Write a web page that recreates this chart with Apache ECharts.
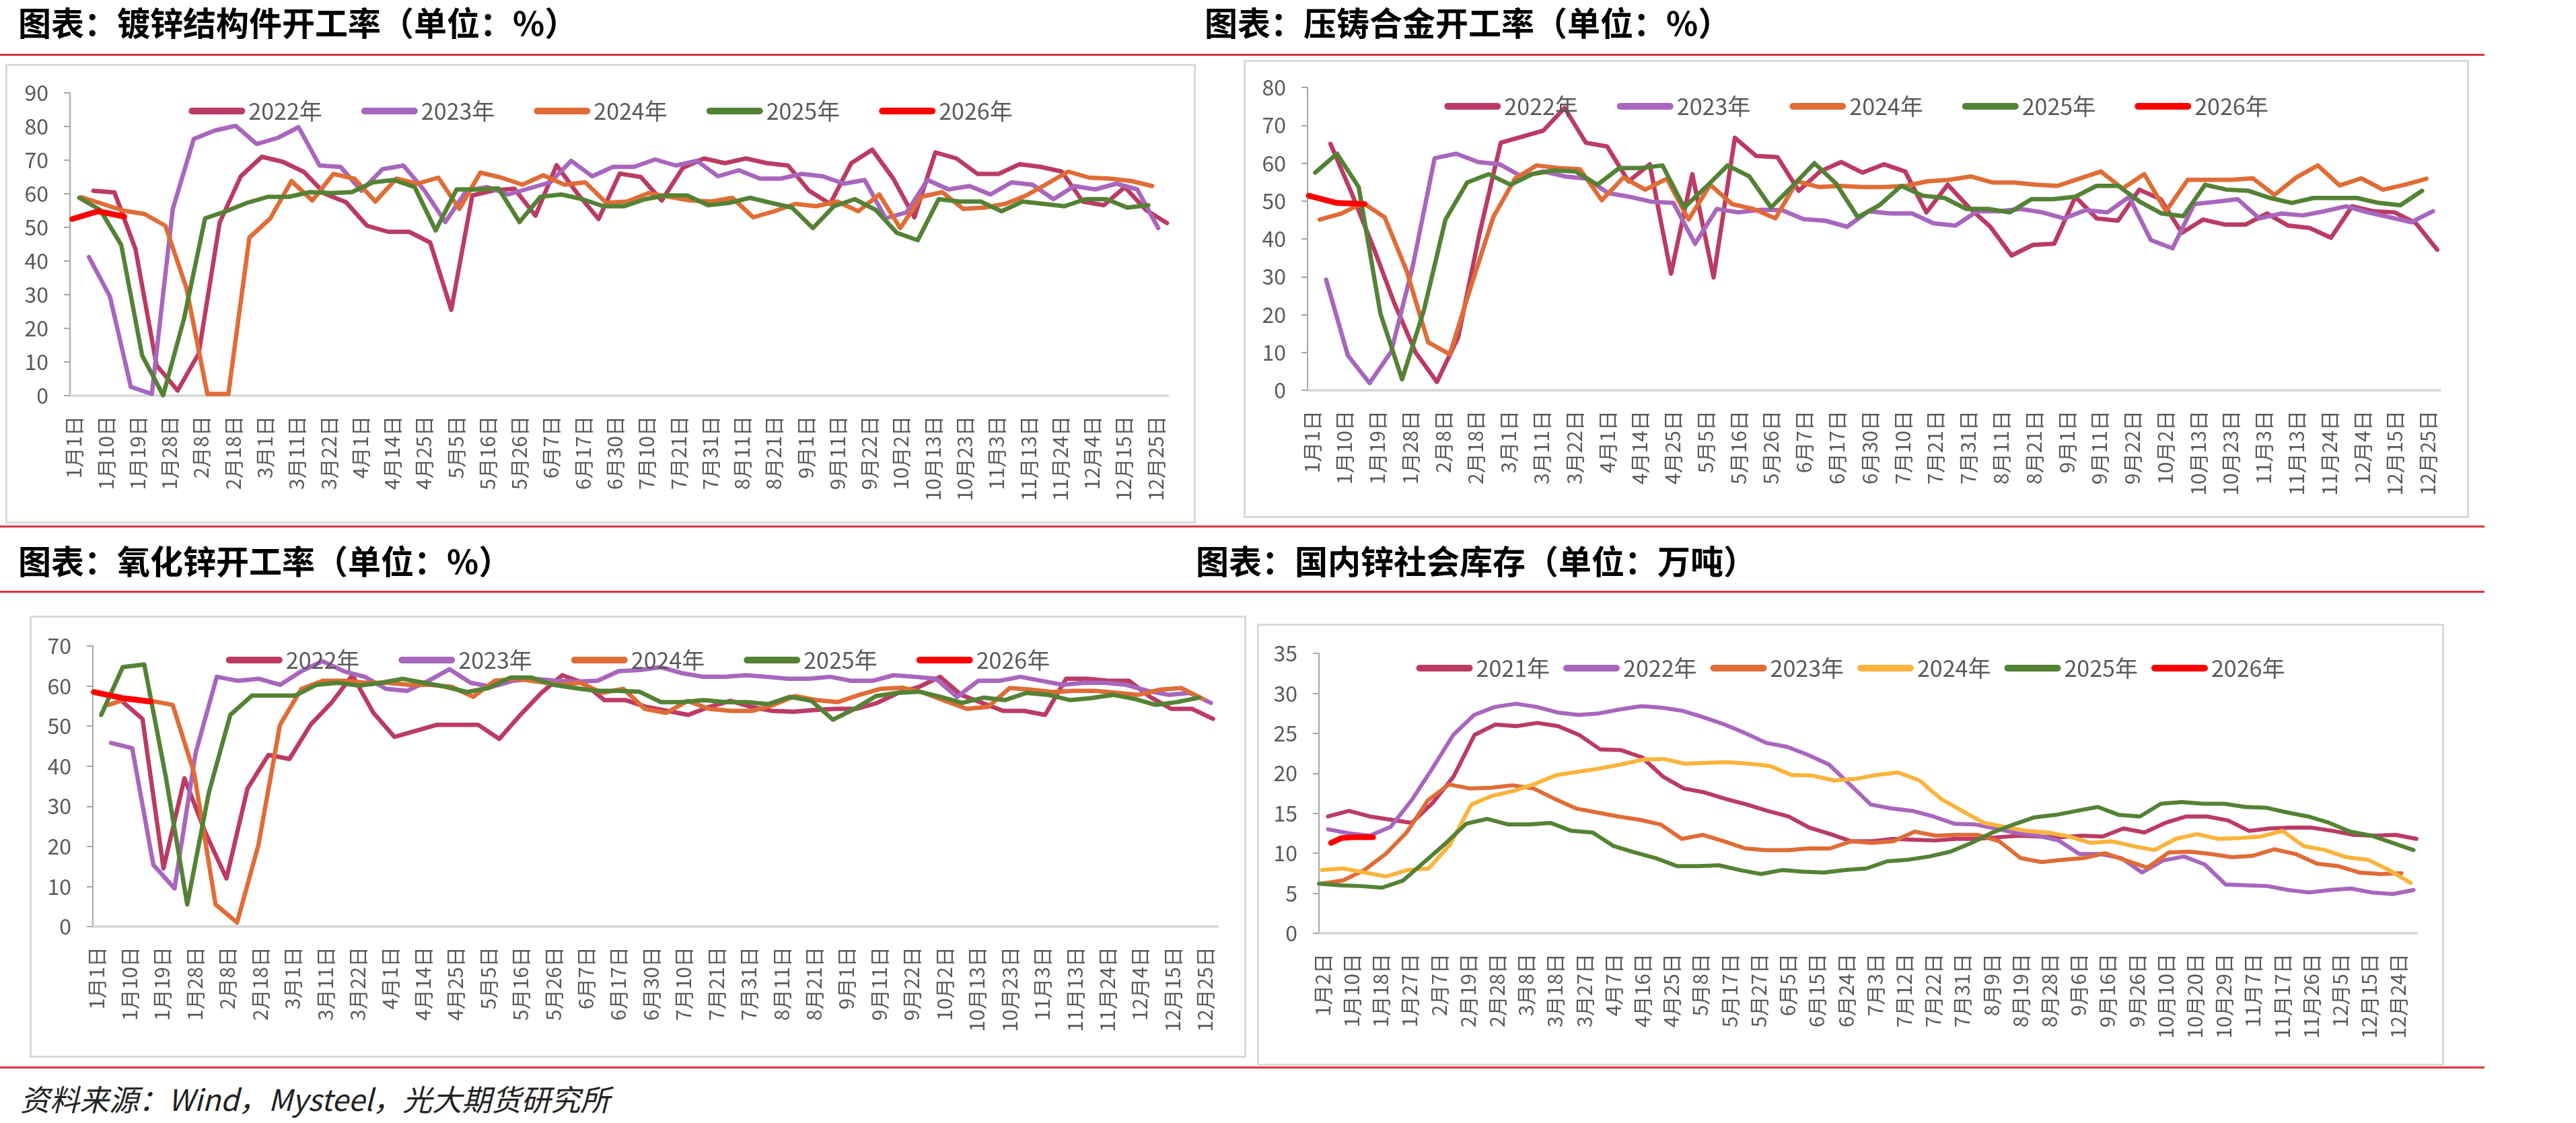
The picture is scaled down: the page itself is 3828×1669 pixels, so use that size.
<!DOCTYPE html>
<html>
<head>
<meta charset="utf-8">
<script src="https://cdn.jsdelivr.net/npm/echarts@6/dist/echarts.min.js"></script>
<style>
  html, body { margin: 0; padding: 0; background: #fff; }
  body { width: 3828px; height: 1669px; position: relative; overflow: hidden; font-family: "Noto Sans CJK SC", sans-serif; }
  .title { position: absolute; font-weight: 700; font-size: 49px; line-height: 48px; color: #000; white-space: nowrap; }
  .rule { position: absolute; left: 0; width: 3692px; height: 3px; background: #d9363e; }
  .box { position: absolute; box-sizing: border-box; border: 3px solid #d9d9d9; }
  .source { position: absolute; left: 30px; top: 1609px; font-size: 44px; line-height: 46px; font-style: italic; color: #222; white-space: nowrap; }
</style>
</head>
<body>
<div class="title" style="left:27px;top:8px">图表：镀锌结构件开工率（单位：%）</div>
<div class="title" style="left:1790px;top:8px">图表：压铸合金开工率（单位：%）</div>
<div class="rule" style="top:80px"></div>
<div class="box" id="p1" style="left:8px;top:95px;width:1769px;height:683px"></div>
<div class="box" id="p2" style="left:1848px;top:89px;width:1821px;height:681px"></div>
<div class="rule" style="top:781px"></div>
<div class="title" style="left:27px;top:808px">图表：氧化锌开工率（单位：%）</div>
<div class="title" style="left:1777px;top:808px">图表：国内锌社会库存（单位：万吨）</div>
<div class="rule" style="top:878px"></div>
<div class="box" id="p3" style="left:44px;top:915px;width:1808px;height:657px"></div>
<div class="box" id="p4" style="left:1868px;top:927px;width:1764px;height:657px"></div>
<div class="rule" style="top:1585px"></div>
<div class="source">资料来源：Wind，Mysteel，光大期货研究所</div>

<script>
const FONT = '"Noto Sans CJK SC", "Noto Sans", sans-serif';

// x轴标签（开工率类图表）
const ticksRate = ['1月1日','1月10日','1月19日','1月28日','2月8日','2月18日','3月1日','3月11日','3月22日','4月1日',
  '4月14日','4月25日','5月5日','5月16日','5月26日','6月7日','6月17日','6月30日','7月10日','7月21日',
  '7月31日','8月11日','8月21日','9月1日','9月11日','9月22日','10月2日','10月13日','10月23日','11月3日',
  '11月13日','11月24日','12月4日','12月15日','12月25日'];
// x轴标签（库存）
const ticksStock = ['1月2日','1月10日','1月18日','1月27日','2月7日','2月19日','2月28日','3月8日','3月18日','3月27日',
  '4月7日','4月16日','4月25日','5月8日','5月17日','5月27日','6月5日','6月15日','6月24日','7月3日',
  '7月12日','7月22日','7月31日','8月9日','8月19日','8月28日','9月6日','9月16日','9月26日','10月10日',
  '10月20日','10月29日','11月7日','11月17日','11月26日','12月5日','12月15日','12月24日'];

// 镀锌结构件开工率
const gz2022 = [60.9, 60.4, 43.5, 9, 1.5, 12.5, 51.5, 65.2, 71, 69.5, 66.5, 60, 57.5, 50.5, 48.7, 48.7, 45.5, 25.5, 59.5, 61,
  61.5, 53.5, 68.5, 60, 52.5, 66, 65, 58, 67.7, 70.5, 69.1, 70.5, 69.1, 68.4, 60.9, 57, 69.1, 73.1, 64.5, 53,
  72.3, 70.5, 65.9, 65.9, 68.8, 68, 66.6, 57.7, 56.6, 62, 55.2, 51.3];
const gz2023 = [41.2, 29.5, 2.6, 0.5, 55.5, 76.3, 78.8, 80.2, 74.8, 76.6, 79.8, 68.4, 68, 60.9, 67.3, 68.4, 61, 51.6, 60.9, 62,
  59.8, 61.6, 63.4, 69.8, 65.2, 68, 68, 70.2, 68.4, 69.8, 65.2, 67, 64.5, 64.5, 65.9, 65.2, 63, 64.1, 52.7, 54.5,
  64.1, 61.3, 62.3, 59.8, 63.4, 62.7, 58.4, 62.3, 61.3, 63, 61.3, 49.8];
const gz2024 = [59, 57, 55, 54, 50.5, 32, 0.5, 0.5, 47, 52.7, 63.8, 58, 65.9, 64.5, 57.7, 64.5, 63, 64.8, 55.5, 66.3,
  64.8, 62.7, 65.5, 62.7, 63.4, 57.3, 57.7, 60.2, 59.1, 58, 57.7, 58.8, 53, 54.8, 57, 56.3, 57.7, 54.8, 59.8, 49.8,
  59.1, 60.5, 55.5, 55.9, 57, 59.5, 63, 66.6, 64.8, 64.5, 63.8, 62.3];
const gz2025 = [58.8, 55.2, 44.8, 11.9, 0.1, 23, 52.7, 54.8, 57.3, 59.1, 59.1, 60.5, 60.2, 60.5, 63.4, 64.1, 62, 49.1, 61.3, 61.3,
  61.6, 51.6, 59.1, 59.8, 58.4, 56.3, 56.3, 58.4, 59.5, 59.5, 56.6, 57.3, 58.8, 57.3, 55.9, 49.8, 56.3, 58.4, 55.2, 48.4,
  46.2, 58.4, 57.7, 57.7, 54.8, 57.7, 57, 56.3, 58.4, 58.4, 55.9, 56.6];
const gz2026 = [52.5, 54.8, 53.2];

// 压铸合金开工率
const dc2022 = [65.1, 52, 38, 23, 10, 2.2, 14, 41.3, 65.4, 67, 68.6, 74.6, 65.4, 64.4, 55.2, 59.7, 30.8, 57.1, 29.8, 66.7,
  61.9, 61.6, 52.7, 57.8, 60.3, 57.5, 59.7, 57.8, 47, 54.3, 48.3, 43.2, 35.6, 38.4, 38.7, 51.1, 45.4, 44.8, 53, 50.5,
  41.6, 45.1, 43.8, 43.8, 46.7, 43.5, 42.9, 40.3, 48.6, 47.3, 47, 44.1, 37.1];
const dc2023 = [29.2, 9.2, 1.9, 10.2, 33, 61.3, 62.5, 60.3, 59.7, 56.5, 57.8, 56.5, 55.9, 52.1, 51.1, 49.8, 49.5, 38.7, 47.9, 47,
  47.7, 47.6, 45.2, 44.8, 43.2, 47.3, 46.7, 46.7, 44.1, 43.5, 47.3, 47.3, 47.9, 47, 45.4, 47.6, 47, 51.1, 39.7, 37.5,
  49.2, 49.8, 50.5, 45.4, 46.7, 46.2, 47.3, 48.6, 47, 45.7, 44.4, 47.3];
const dc2024 = [45.1, 46.7, 49.5, 45.7, 31.7, 12.7, 9.5, 27.9, 45.7, 55.9, 59.4, 58.7, 58.4, 50.2, 56.2, 53, 55.9, 45.1, 54.3, 49.2,
  47.9, 45.4, 55.2, 53.7, 54, 53.7, 53.7, 54, 55.2, 55.6, 56.5, 54.9, 54.9, 54.3, 54, 55.9, 57.8, 53.3, 57.1, 47.3,
  55.6, 55.6, 55.6, 56, 51.6, 56.2, 59.4, 54.1, 56, 53, 54.3, 55.9];
const dc2025 = [57.5, 62.5, 53.7, 20.3, 2.9, 21, 45.1, 54.9, 57.1, 54.3, 57.1, 58.1, 57.8, 54.3, 58.7, 58.7, 59.4, 48.3, 53.7, 59.4,
  56.5, 48.3, 54, 60, 54.6, 45.7, 48.9, 54, 51.4, 50.8, 47.9, 47.9, 47, 50.5, 50.5, 51.1, 54, 54, 49.8, 46.7,
  46, 54.3, 53, 52.7, 50.8, 49.5, 50.8, 50.8, 50.8, 49.5, 48.9, 52.7];
const dc2026 = [51.4, 49.5, 49.2];

// 氧化锌开工率
const zo2022 = [56.3, 51.8, 14.5, 37, 23.4, 12, 34.4, 42.8, 41.8, 50.3, 55.8, 62.7, 53.3, 47.3, 48.8, 50.3, 50.3, 50.3, 46.8, 52.8,
  58.3, 62.7, 60.8, 56.5, 56.5, 54.8, 53.8, 52.8, 54.8, 56.3, 54.8, 53.8, 53.6, 54, 54.3, 54.3, 55.8, 58.3, 59.8, 62.3,
  57.8, 55.8, 53.8, 53.8, 52.8, 61.8, 61.8, 61.3, 61.3, 57.3, 54.3, 54.3, 51.8];
const zo2023 = [45.8, 44.5, 15.4, 9.5, 43.3, 62.3, 61.3, 61.8, 60.3, 63.7, 66.2, 63.7, 62.3, 59.3, 58.8, 61.3, 64.2, 60.8, 59.8, 61.3,
  61.8, 61.3, 61.1, 61.3, 63.7, 64, 64.7, 63.2, 62.3, 62.3, 62.7, 62.3, 61.8, 61.8, 62.3, 61.3, 61.3, 62.7, 62.3, 61.8,
  57.3, 61.3, 61.3, 62.3, 61.3, 60.3, 60.8, 60.8, 60.3, 58.8, 57.8, 58.3, 55.8];
const zo2024 = [55.3, 57, 56.3, 55.3, 38.3, 5.5, 1, 20.4, 50.3, 59.3, 61.3, 61.3, 60.8, 60.8, 60.3, 60.3, 59.8, 57.3, 61.3, 61.8,
  61.1, 60.3, 60.8, 58.3, 59.3, 54.3, 53.3, 56.3, 54.3, 53.8, 53.8, 55.3, 57.5, 56.5, 56, 57.8, 59.3, 59.6, 58.3, 56.3,
  54.3, 54.8, 59.5, 59.1, 58.5, 58.8, 58.8, 58.3, 57.8, 59.1, 59.5, 56.8];
const zo2025 = [52.8, 64.7, 65.4, 37.4, 5.5, 33.4, 52.8, 57.6, 57.6, 57.6, 60.3, 60.8, 60.1, 60.8, 61.8, 60.8, 59.8, 58.5, 59.5, 62.1,
  62.1, 60.3, 59.5, 58.8, 58.8, 58.6, 56, 56, 56.5, 56, 56, 55.5, 57.3, 56.3, 51.6, 54.3, 57.5, 58.3, 58.6, 57.3,
  55.8, 57.1, 56.5, 58.3, 57.8, 56.5, 57, 57.8, 56.8, 55.3, 56, 57.1];
const zo2026 = [58.5, 57, 56.1];

// 国内锌社会库存
const st2021 = [14.6, 15.3, 14.6, 14.2, 13.8, 16.3, 19.6, 24.8, 26.1, 25.9, 26.3, 25.9, 24.8, 23, 22.9, 22, 19.6, 18.1, 17.6, 16.8,
  16.1, 15.3, 14.6, 13.2, 12.4, 11.5, 11.5, 11.8, 11.7, 11.6, 11.8, 11.8, 12, 12.2, 12.1, 12, 12.2, 12.1, 13.1, 12.6,
  13.8, 14.6, 14.6, 14.1, 12.8, 13.1, 13.2, 13.2, 12.8, 12.3, 12.2, 12.3, 11.8];
const st2022 = [13, 12.5, 12.2, 13.3, 16.6, 20.6, 24.8, 27.3, 28.3, 28.7, 28.3, 27.6, 27.3, 27.5, 28, 28.4, 28.2, 27.8, 27, 26.1,
  25, 23.8, 23.3, 22.3, 21.1, 18.6, 16.1, 15.6, 15.3, 14.6, 13.7, 13.6, 13.1, 12.5, 12.2, 11.6, 9.9, 9.9, 9.4, 7.6,
  9.1, 9.6, 8.6, 6.1, 6, 5.9, 5.4, 5.1, 5.4, 5.6, 5.1, 4.9, 5.4];
const st2023 = [6.2, 6.6, 7.9, 9.9, 12.6, 16.6, 18.6, 18.1, 18.2, 18.5, 18.1, 16.8, 15.6, 15.1, 14.6, 14.2, 13.6, 11.8, 12.3, 11.5,
  10.6, 10.4, 10.4, 10.6, 10.6, 11.5, 11.3, 11.5, 12.7, 12.2, 12.3, 12.3, 11.5, 9.4, 8.9, 9.2, 9.4, 10, 9.1, 8.2,
  10.1, 10.2, 9.9, 9.5, 9.7, 10.5, 9.9, 8.7, 8.4, 7.6, 7.4, 7.5];
const st2024 = [7.9, 8.1, 7.6, 7.1, 7.9, 8.1, 11.1, 16.1, 17.2, 17.8, 18.7, 19.8, 20.2, 20.6, 21.1, 21.7, 21.8, 21.2, 21.3, 21.4,
  21.2, 20.9, 19.8, 19.7, 19.1, 19.3, 19.8, 20.1, 19.1, 16.8, 15.3, 13.8, 13.3, 12.8, 12.6, 12.1, 11.3, 11.5, 10.9, 10.4,
  11.8, 12.4, 11.8, 11.9, 12.1, 12.8, 10.9, 10.4, 9.5, 9.2, 7.9, 6.3];
const st2025 = [6.2, 6, 5.9, 5.7, 6.6, 8.9, 11.2, 13.7, 14.3, 13.6, 13.6, 13.8, 12.8, 12.6, 10.9, 10.1, 9.4, 8.4, 8.4, 8.5,
  7.9, 7.4, 7.9, 7.7, 7.6, 7.9, 8.1, 9, 9.2, 9.6, 10.2, 11.3, 12.6, 13.6, 14.5, 14.8, 15.3, 15.8, 14.8, 14.6,
  16.2, 16.4, 16.2, 16.2, 15.8, 15.7, 15.1, 14.6, 13.8, 12.7, 12.2, 11.3, 10.4];
const st2026 = [11.3, 11.9, 12, 12, 12];

const C_CRIMSON = '#bb3b63', C_PURPLE = '#a866bd', C_ORANGE = '#e06c36',
      C_YELLOW = '#fab43c', C_GREEN = '#548235', C_RED = '#ff0000';

// 每条序列：首末观测日（年内第几天），中间按周均匀分布
function line(name, vals, first, last, color, width) {
  const step = vals.length > 1 ? (last - first) / (vals.length - 1) : 0;
  return {
    name: name,
    type: 'line',
    xAxisIndex: 1,
    symbol: 'none',
    data: vals.map((v, i) => [first + i * step, v]),
    itemStyle: { color: color },
    lineStyle: { color: color, width: width || 6.5, cap: 'round', join: 'round' }
  };
}

const panels = [
  {
    id: 'p1', ticks: ticksRate, cats: 138, yMax: 90, yStep: 10,
    grid: { left: 93, top: 40, right: 39, bottom: 187 }, legendTop: 45, legendGap: 58,
    series: [
      line('2022年', gz2022, 7.8, 364.8, C_CRIMSON),
      line('2023年', gz2023, 6.3, 361.9, C_PURPLE),
      line('2024年', gz2024, 3.8, 359.9, C_ORANGE),
      line('2025年', gz2025, 3.1, 358.6, C_GREEN),
      line('2026年', gz2026, 0.7, 18.1, C_RED, 8.5)
    ]
  },
  {
    id: 'p2', ticks: ticksRate, cats: 138, yMax: 80, yStep: 10,
    grid: { left: 92, top: 38, right: 40, bottom: 187 }, legendTop: 44, legendGap: 58,
    series: [
      line('2022年', dc2022, 7.4, 364.1, C_CRIMSON),
      line('2023年', dc2023, 6, 362.7, C_PURPLE),
      line('2024年', dc2024, 3.9, 360.6, C_ORANGE),
      line('2025年', dc2025, 2.5, 359.2, C_GREEN),
      line('2026年', dc2026, 0.4, 18.4, C_RED, 8.5)
    ]
  },
  {
    id: 'p3', ticks: ticksRate, cats: 138, yMax: 70, yStep: 10,
    grid: { left: 91, top: 42, right: 40, bottom: 192 }, legendTop: 41, legendGap: 58,
    series: [
      line('2022年', zo2022, 9.3, 363.6, C_CRIMSON),
      line('2023年', zo2023, 5.9, 362.9, C_PURPLE),
      line('2024年', zo2024, 5, 360.3, C_ORANGE),
      line('2025年', zo2025, 2.7, 359, C_GREEN),
      line('2026年', zo2026, 0.3, 18.8, C_RED, 8.5)
    ]
  },
  {
    id: 'p4', ticks: ticksStock, cats: 151, yMax: 35, yStep: 5,
    grid: { left: 89, top: 41, right: 38, bottom: 194 }, legendTop: 41, legendGap: 20,
    series: [
      line('2021年', st2021, 3, 365, C_CRIMSON, 6),
      line('2022年', st2022, 3, 364, C_PURPLE, 6),
      line('2023年', st2023, 1, 360, C_ORANGE, 6),
      line('2024年', st2024, 1, 363, C_YELLOW, 6),
      line('2025年', st2025, 0, 364, C_GREEN, 6),
      line('2026年', st2026, 4, 18, C_RED, 8.5)
    ]
  }
];

const CAPSULE = 'path://M5,0 L79,0 A5,5 0 0 1 79,10 L5,10 A5,5 0 0 1 5,0 Z';

panels.forEach(function (p) {
  const chart = echarts.init(document.getElementById(p.id), null, { renderer: 'canvas' });
  const cats = Array.from({ length: p.cats }, (_, i) => String(i));
  chart.setOption({
    animation: false,
    backgroundColor: '#ffffff',
    textStyle: { fontFamily: FONT },
    legend: {
      top: p.legendTop,
      left: 'center',
      icon: CAPSULE,
      itemWidth: 84,
      itemHeight: 11,
      itemGap: p.legendGap,
      textStyle: { fontFamily: FONT, fontSize: 34, color: '#595959' },
      data: p.series.map(s => s.name)
    },
    grid: Object.assign({ containLabel: false, outerBoundsMode: 'none' }, p.grid),
    xAxis: [
      {
        type: 'category',
        data: cats,
        boundaryGap: true,
        axisLine: { lineStyle: { color: '#d9d9d9', width: 4 } },
        axisTick: { interval: 0, length: 12, lineStyle: { color: '#d9d9d9', width: 2 } },
        axisLabel: {
          interval: 3,
          rotate: 90,
          margin: 30,
          fontFamily: FONT,
          fontSize: 30,
          color: '#595959',
          formatter: function (v, i) { return p.ticks[i / 4] || ''; }
        },
        splitLine: { show: false }
      },
      { type: 'value', min: 0, max: 365, show: false }
    ],
    yAxis: {
      type: 'value',
      min: 0,
      max: p.yMax,
      interval: p.yStep,
      splitLine: { show: false },
      axisLine: { show: true, lineStyle: { color: '#a6a6a6', width: 2 } },
      axisTick: { show: true, length: 9, lineStyle: { color: '#a6a6a6', width: 2 } },
      axisLabel: { margin: 32, fontFamily: FONT, fontSize: 32, color: '#595959' }
    },
    series: p.series
  });
});
</script>
</body>
</html>
